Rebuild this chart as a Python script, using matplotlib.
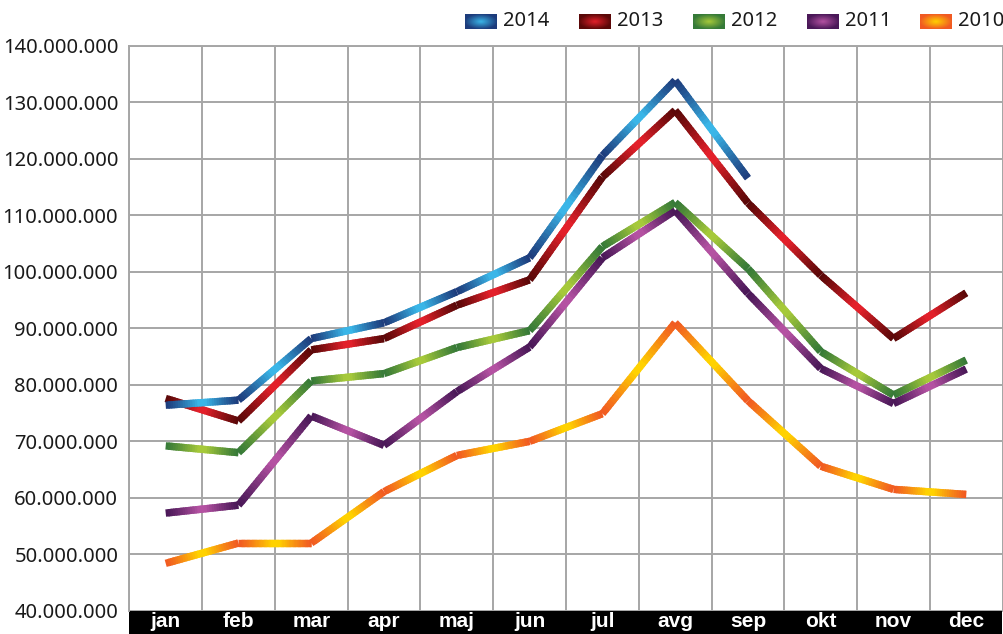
import numpy as np
import matplotlib
matplotlib.use("Agg")
import matplotlib.pyplot as plt
from matplotlib.collections import LineCollection
from matplotlib.colors import to_rgb
from matplotlib.patches import Rectangle

months = ["jan", "feb", "mar", "apr", "maj", "jun", "jul", "avg", "sep", "okt", "nov", "dec"]
years = ["2014", "2013", "2012", "2011", "2010"]

v2014 = [76.4, 77.3, 88.2, 91.0, 96.5, 102.5, 120.6, 133.9, 116.6]
v2013 = [77.6, 73.6, 86.2, 88.2, 94.1, 98.6, 116.8, 128.6, 112.2, 99.4, 88.2, 96.3]
v2012 = [69.2, 68.0, 80.7, 82.0, 86.6, 89.6, 104.5, 112.3, 100.6, 85.9, 78.2, 84.4]
v2011 = [57.3, 58.7, 74.5, 69.3, 78.8, 86.7, 102.5, 110.9, 96.2, 82.9, 76.7, 82.8]
v2010 = [48.4, 52.0, 52.0, 61.1, 67.5, 70.0, 74.9, 91.0, 77.2, 65.6, 61.5, 60.6]
series = [v2014, v2013, v2012, v2011, v2010]
scale = 1_000_000

ytick_vals = list(range(40_000_000, 140_000_001, 10_000_000))

colors = {
    "2014": ("#1d3c7c", "#3ab6e8"),
    "2013": ("#5a0808", "#e3202a"),
    "2012": ("#367a38", "#a6c93a"),
    "2011": ("#4a1858", "#b452a2"),
    "2010": ("#f15a22", "#ffd200"),
}

FONT = ["Noto Sans", "DejaVu Sans"]
STRETCH = "condensed"
BOLD_FONT = ["Liberation Sans", "DejaVu Sans"]

fig = plt.figure(figsize=(10.04, 6.34), dpi=100)
ax = fig.add_axes([129.3 / 1004, (634 - 610.8) / 634, (1002.7 - 129.3) / 1004, (610.8 - 46) / 634])

ax.set_xlim(-0.5, len(months) - 0.5)
ax.set_ylim(ytick_vals[0], ytick_vals[-1])

# grid
ax.set_xticks(np.arange(-0.5, len(months), 1.0), minor=True)
ax.grid(True, which="minor", axis="x", color="#a6a6a6", lw=1.4)
ax.set_yticks(ytick_vals)
ax.grid(True, which="major", axis="y", color="#a6a6a6", lw=1.4)
ax.set_axisbelow(True)
for s in ax.spines.values():
    s.set_color("#a6a6a6")
    s.set_linewidth(1.4)
ax.spines["bottom"].set_visible(False)

ax.set_yticklabels([f"{v:,}".replace(",", ".") for v in ytick_vals],
                   family=FONT, fontstretch=STRETCH, fontsize=14.5, color="#1a1a1a")
ax.tick_params(axis="y", length=0, pad=8)
ax.set_xticks(range(len(months)))
ax.set_xticklabels(months, family=BOLD_FONT, fontsize=15,
                   fontweight="bold", color="white")
ax.tick_params(axis="x", which="both", length=0, pad=1)

# black band for month labels
fig.patches.append(Rectangle((129.3 / 1004, 0), (1001.5 - 129.3) / 1004, (634 - 610.3) / 634,
                             transform=fig.transFigure, facecolor="black", edgecolor="none",
                             zorder=-1))


def gradient_line(ax, xs, ys, dark, light, z, n=30, lw=5.3):
    dark = np.array(to_rgb(dark))
    light = np.array(to_rgb(light))
    for i in range(len(xs) - 1):
        t = np.linspace(0, 1, n + 1)
        t0 = t[:-1]
        t1 = np.minimum(t[1:] + 0.8 / n, 1.0)
        dx = xs[i + 1] - xs[i]
        dy = ys[i + 1] - ys[i]
        segs = np.stack([np.column_stack([xs[i] + dx * t0, ys[i] + dy * t0]),
                         np.column_stack([xs[i] + dx * t1, ys[i] + dy * t1])], axis=1)
        tm = (t[:-1] + t[1:]) / 2
        s = 1 - np.abs(2 * tm - 1)
        s = np.clip(s * 1.1, 0, 1) ** 1.2
        cols = dark[None, :] * (1 - s[:, None]) + light[None, :] * s[:, None]
        lc = LineCollection(segs, colors=cols, linewidths=lw, capstyle="butt", zorder=z)
        ax.add_collection(lc)


for k, (yr, vals) in enumerate(zip(years, series)):
    xs = np.arange(len(vals))
    ys = np.array(vals) * scale
    d, l = colors[yr]
    gradient_line(ax, xs, ys, d, l, z=10 - k)

# legend
leg_x0 = [465, 579, 693, 807, 920]
for yr, x0 in zip(years, leg_x0):
    d, l = colors[yr]
    d = np.array(to_rgb(d)); l = np.array(to_rgb(l))
    gy, gx = np.mgrid[0:16, 0:32]
    r = np.sqrt(((gx - 15.5) / 16) ** 2 + ((gy - 7.5) / 8) ** 2) / np.sqrt(2)
    r = np.clip(r * 1.4, 0, 1)
    img = d[None, None, :] * r[..., None] + l[None, None, :] * (1 - r[..., None])
    lax = fig.add_axes([x0 / 1004, (634 - 29) / 634, 32 / 1004, 15 / 634])
    lax.imshow(img, aspect="auto", interpolation="bilinear")
    lax.axis("off")
    fig.text((x0 + 38) / 1004, (634 - 21) / 634, yr, family=FONT, fontstretch=STRETCH,
             fontsize=14.5, color="#1a1a1a", va="center", ha="left")

fig.savefig("out.png", dpi=100)
